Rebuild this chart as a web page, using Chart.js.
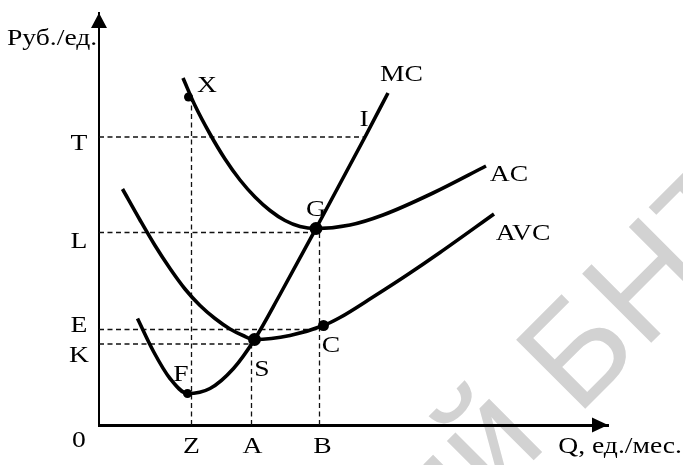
<!DOCTYPE html>
<html>
<head>
<meta charset="utf-8">
<script src="https://cdn.jsdelivr.net/npm/chart.js@4"></script>
<style>
  html, body { margin: 0; padding: 0; background: #fff; }
  canvas { display: block; }
</style>
</head>
<body>
<canvas id="costChart" width="683" height="465"></canvas>
<script>
// levels marked on the axes
const qtyNames = ['Z', 'A', 'B'];
const qtyValues = [18.5, 30.5, 44.1];
const priceNames = ['T', 'L', 'E', 'K'];
const priceValues = [57.6, 38.5, 19.1, 16.2];

// cost curves: quantity / price per unit
const mcQ = [7.7, 10.9, 14.2, 17.7, 22.2, 26.9, 31.1, 36.2, 43.4, 53.2, 57.8];
const mcP = [21.3, 14.7, 9.3, 6.3, 7.3, 11.3, 17.1, 26.1, 39.3, 57.6, 66.4];
const acQ = [16.8, 19.2, 22.2, 25.2, 28.2, 31.2, 34.2, 37.2, 40.2, 43.4, 50.2, 56.8, 66.8, 77.4];
const acP = [69.4, 63.9, 58.2, 53.2, 49.0, 45.6, 42.9, 40.9, 39.7, 39.3, 40.0, 42.0, 46.4, 51.8];
const avcQ = [4.7, 8.2, 11.2, 14.2, 17.2, 20.2, 23.2, 26.2, 28.8, 31.1, 38.2, 44.9, 48.2, 54.8, 61.6, 68.2, 79.0];
const avcP = [47.2, 41.0, 35.9, 31.3, 27.2, 23.9, 21.3, 19.2, 17.9, 17.1, 17.9, 19.9, 21.5, 25.6, 30.0, 34.5, 42.2];

// marked points on the curves
const pointNames = ['X', 'G', 'S', 'C', 'F'];
const pointQ = [17.9, 43.4, 31.1, 44.9, 17.7];
const pointP = [65.6, 39.3, 17.1, 19.9, 6.3];

const [Z, A, B] = qtyValues;
const [T, L, E, K] = priceValues;
const xy = (qs, ps) => qs.map((q, i) => ({ x: q, y: ps[i] }));

// dashed guides: horizontal to the curve, vertical down to the Q axis
const guideLines = [
  [[0, T], [53.2, T]],
  [[0, L], [B, L]],
  [[0, E], [B, E]],
  [[0, K], [A, K]],
  [[Z, 0], [Z, pointP[0]]],
  [[A, 0], [A, K]],
  [[B, 0], [B, L]]
];

// ---- layout-only settings ----
const serif = '23px "Liberation Serif", "Times New Roman", serif';
const stretch = 1.2;
const priceNudge = [13, 15.5, 2, 17.5];
const qtyNudge = [0, 1, 3];
const labelSpots = [
  { t: 'X', q: 21.6, p: 66.6 },
  { t: 'G', q: 43.4, p: 41.8 },
  { t: 'S', q: 32.6, p: 9.8 },
  { t: 'C', q: 46.4, p: 14.6 },
  { t: 'F', q: 16.4, p: 8.8 },
  { t: 'I', q: 53.0, p: 59.8 },
  { t: 'MC', q: 60.5, p: 68.9 },
  { t: 'AC', q: 82.0, p: 48.8 },
  { t: 'AVC', q: 84.8, p: 37.0 }
];

function stretchText(ctx, text, x, y, align) {
  ctx.save();
  ctx.translate(x, y);
  ctx.scale(stretch, 1);
  ctx.font = serif;
  ctx.fillStyle = '#000';
  ctx.textAlign = align || 'center';
  ctx.textBaseline = 'alphabetic';
  ctx.fillText(text, 0, 0);
  ctx.restore();
}

const backdrop = {
  id: 'backdrop',
  beforeDraw(chart) {
    const ctx = chart.ctx;
    ctx.save();
    ctx.fillStyle = '#fff';
    ctx.fillRect(0, 0, chart.width, chart.height);
    // faint repository watermark
    ctx.translate(577, 417);
    ctx.rotate(-Math.PI / 4);
    ctx.font = '142px "Liberation Sans", Arial, sans-serif';
    ctx.fillStyle = '#d2d2d2';
    ctx.textBaseline = 'alphabetic';
    ctx.textAlign = 'left';
    ctx.fillText('БНТУ', 0, 0);
    ctx.textAlign = 'right';
    ctx.fillText('Репозиторий ', 0, 0);
    ctx.restore();
  }
};

const annotate = {
  id: 'annotate',
  afterDraw(chart) {
    const { ctx, chartArea: ca, scales: { x, y } } = chart;

    // axis arrows
    ctx.save();
    ctx.fillStyle = '#000';
    ctx.beginPath();
    ctx.moveTo(ca.left, ca.top);
    ctx.lineTo(ca.left - 8, ca.top + 15);
    ctx.lineTo(ca.left + 8, ca.top + 15);
    ctx.closePath();
    ctx.fill();
    ctx.beginPath();
    ctx.moveTo(ca.right, ca.bottom);
    ctx.lineTo(ca.right - 16, ca.bottom - 7.5);
    ctx.lineTo(ca.right - 16, ca.bottom + 7.5);
    ctx.closePath();
    ctx.fill();
    ctx.restore();

    // axis titles and origin
    stretchText(ctx, 'Руб./ед.', ca.left - 92, 45, 'left');
    stretchText(ctx, 'Q, ед./мес.', 682, 453, 'right');
    stretchText(ctx, '0', ca.left - 20, 447);

    priceNames.forEach((n, i) => {
      stretchText(ctx, n, ca.left - 20, y.getPixelForValue(priceValues[i]) + priceNudge[i]);
    });
    qtyNames.forEach((n, i) => {
      stretchText(ctx, n, x.getPixelForValue(qtyValues[i]) + qtyNudge[i], 453);
    });
    labelSpots.forEach(s => {
      stretchText(ctx, s.t, x.getPixelForValue(s.q), y.getPixelForValue(s.p));
    });
  }
};

const curve = (label, data) => ({
  label,
  data,
  showLine: true,
  borderColor: '#000',
  borderWidth: 3.6,
  pointRadius: 0,
  cubicInterpolationMode: 'monotone',
  order: 2
});

const guideSets = guideLines.map(seg => ({
  data: seg.map(([q, p]) => ({ x: q, y: p })),
  showLine: true,
  borderColor: '#111',
  borderWidth: 1.3,
  borderDash: [5, 3.5],
  pointRadius: 0,
  order: 3
}));

new Chart(document.getElementById('costChart'), {
  type: 'scatter',
  data: {
    datasets: [
      ...guideSets,
      curve('MC', xy(mcQ, mcP)),
      curve('AC', xy(acQ, acP)),
      curve('AVC', xy(avcQ, avcP)),
      {
        label: 'points',
        data: xy(pointQ, pointP),
        backgroundColor: '#000',
        borderColor: '#000',
        borderWidth: 0,
        pointRadius: [4.5, 6.5, 6.5, 5.5, 4.5],
        order: 1
      }
    ]
  },
  options: {
    responsive: false,
    animation: false,
    devicePixelRatio: 1,
    layout: { padding: { left: 0, right: 75, top: 13, bottom: 0 } },
    plugins: { legend: { display: false }, tooltip: { enabled: false } },
    scales: {
      x: {
        type: 'linear', min: 0, max: 101.8,
        grid: { display: false },
        ticks: { display: false },
        border: { color: '#000', width: 3 },
        afterFit: s => { s.height = 40; }
      },
      y: {
        type: 'linear', min: 0, max: 82.4,
        grid: { display: false },
        ticks: { display: false },
        border: { color: '#000', width: 2 },
        afterFit: s => { s.width = 99; }
      }
    }
  },
  plugins: [backdrop, annotate]
});
</script>
</body>
</html>
